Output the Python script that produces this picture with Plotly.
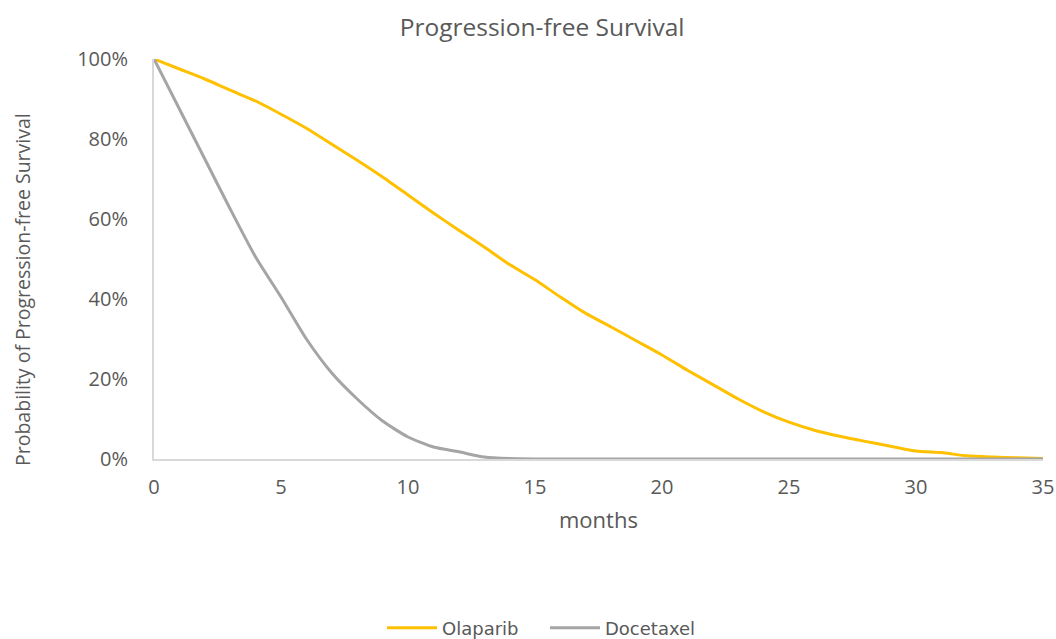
import plotly.graph_objects as go

months = list(range(0, 36))
olaparib = [1.00, 0.975, 0.95, 0.922, 0.895, 0.862, 0.827, 0.787, 0.747, 0.705,
            0.660, 0.615, 0.572, 0.530, 0.486, 0.448, 0.405, 0.364, 0.330, 0.295,
            0.260, 0.222, 0.186, 0.150, 0.118, 0.092, 0.072, 0.057, 0.044, 0.032,
            0.020, 0.016, 0.008, 0.005, 0.003, 0.001]
docetaxel = [1.00, 0.875, 0.750, 0.625, 0.505, 0.405, 0.300, 0.215, 0.150, 0.095,
             0.055, 0.030, 0.018, 0.005, 0.001, 0, 0, 0, 0, 0,
             0, 0, 0, 0, 0, 0, 0, 0, 0, 0,
             0, 0, 0, 0, 0, 0]

series_names = ["Olaparib", "Docetaxel"]
series_colors = ["#FFC000", "#A5A5A5"]

text_color = "#595959"
font_family = "Open Sans, Segoe UI, sans-serif"

fig = go.Figure()
for name, vals, col in zip(series_names, [olaparib, docetaxel], series_colors):
    fig.add_trace(go.Scatter(x=months, y=vals, mode="lines", name=name,
                             line=dict(color=col, width=3, shape="spline", smoothing=0.6)))

fig.update_layout(
    width=1056, height=639,
    margin=dict(l=154, r=13, t=59, b=180, autoexpand=False),
    paper_bgcolor="white", plot_bgcolor="white",
    font=dict(family=font_family, color=text_color, size=18),
    title=dict(text="Progression-free Survival", x=0.4365, xref="paper", xanchor="center",
               y=1 - 27 / 639, yanchor="middle", font=dict(size=24.5, color=text_color)),
    showlegend=True,
    legend=dict(orientation="h", x=(382 - 154) / 889, xanchor="left", y=-(628 - 459) / 400,
                yanchor="middle",
                font=dict(family="DejaVu Sans, Verdana, sans-serif", size=18, color=text_color),
                itemwidth=50, tracegroupgap=0, entrywidth=98, entrywidthmode="pixels"),
)
fig.update_xaxes(range=[0, 35], tickvals=[0, 5, 10, 15, 20, 25, 30, 35], showgrid=False,
                 zeroline=False, showline=True, linecolor="#D9D9D9", linewidth=2,
                 ticks="", tickfont=dict(size=20, color=text_color), ticklabelstandoff=9)
fig.update_yaxes(range=[0, 1.0], tickvals=[0, 0.2, 0.4, 0.6, 0.8, 1.0], tickformat=".0%",
                 showgrid=False, zeroline=False, showline=True, linecolor="#D9D9D9", linewidth=2,
                 ticks="", tickfont=dict(size=20, color=text_color), ticklabelstandoff=20)

fig.add_annotation(text="months", xref="paper", yref="paper", x=0.5, y=-0.15,
                   xanchor="center", yanchor="middle", showarrow=False,
                   font=dict(size=22, color=text_color))
fig.add_annotation(text="Probability of Progression-free Survival", xref="paper", yref="paper",
                   x=(22 - 154) / 889, y=(459 - 290) / 400, xanchor="center", yanchor="middle",
                   textangle=-90, showarrow=False, font=dict(size=19.5, color=text_color))

fig.write_html("out.html", config={"displayModeBar": False},
               post_script="document.body.style.margin='0';")
